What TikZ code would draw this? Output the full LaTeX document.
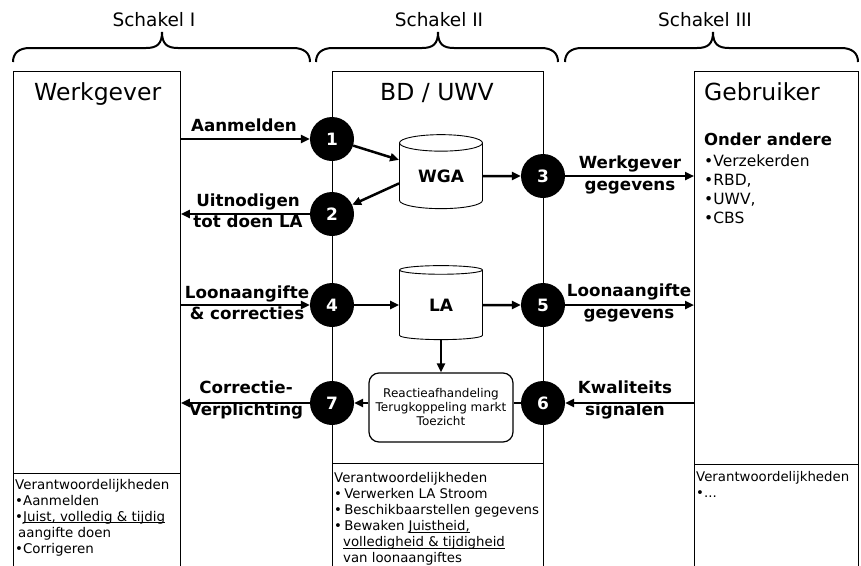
\documentclass[tikz,border=0pt]{standalone}
\usepackage{fontspec}
\setmainfont{DejaVu Sans}
\usetikzlibrary{arrows.meta,shapes.geometric,calc}
\newcommand\mybrace[3]{\draw[bracepath] (#1,62) .. controls (#1,53) and ({#1+6},48) .. ({#1+17},48) -- ({#2-16},48) .. controls ({#2-5},48) and (#2,44) .. (#2,32) .. controls (#2,44) and ({#2+5},48) .. ({#2+16},48) -- ({#3-17},48) .. controls ({#3-6},48) and (#3,53) .. (#3,62);}
\newcommand\myul[1]{\setbox0=\hbox{#1}\rlap{\rule[-1.6pt]{\wd0}{0.7pt}}\box0}
\begin{document}
\begin{tikzpicture}[x=1pt,y=-1pt,
  panel/.style={draw, line width=0.9pt, minimum width=#1, minimum height=520pt, anchor=north west, inner sep=0pt},
  num/.style={circle, fill=black, minimum size=44pt, inner sep=0pt, text=white, font=\bfseries\fontsize{17}{17}\selectfont},
  arr/.style={line width=2.5pt, -{Triangle[length=9pt,width=8pt]}},
  conn/.style={line width=2.5pt},
  lbl/.style={font=\bfseries\fontsize{16.7}{21.5}\selectfont, align=center, inner sep=0pt},
  db/.style={cylinder, shape border rotate=90, draw, line width=0.9pt, fill=white, minimum width=83pt, minimum height=74pt, aspect=0.36, inner sep=0pt, font=\bfseries\fontsize{17}{17}\selectfont},
  bracepath/.style={line width=2pt},
  head/.style={font=\fontsize{23.5}{23.5}\selectfont, inner sep=0pt},
  schak/.style={font=\fontsize{18.5}{18.5}\selectfont, inner sep=0pt},
  small/.style={font=\fontsize{13.4}{16.1}\selectfont, align=left, inner sep=0pt, anchor=north west},
  smallb/.style={font=\fontsize{13.3}{16.1}\selectfont, align=left, inner sep=0pt, anchor=north west},
  rbox/.style={draw, line width=1.2pt, rounded corners=10pt, fill=white, minimum width=144pt, minimum height=69pt, align=center, inner sep=0pt, font=\fontsize{12}{14}\selectfont},
]
\useasboundingbox[fill=white] (0,0) rectangle (861,565);

% braces and their labels
\mybrace{13}{162}{310}
\mybrace{316}{438}{558}
\mybrace{565}{713}{858}
\node[schak] (s1) at (154,20) {Schakel I};
\node[schak] (s2) at (439,20) {Schakel II};
\node[schak] (s3) at (705,20) {Schakel III};

% panels
\node[panel=167pt] (wg) at (13,71) {};
\node[panel=211pt] (bd) at (332,71) {};
\node[panel=164pt] (gb) at (694,71) {};
\draw[line width=0.9pt] (wg.west |- 0,473) -- (wg.east |- 0,473);
\draw[line width=0.9pt] (bd.west |- 0,463) -- (bd.east |- 0,463);
\draw[line width=0.9pt] (gb.west |- 0,464) -- (gb.east |- 0,464);

% headings
\node[head, anchor=base west] (hwg) at (34,100) {Werkgever};
\node[head, anchor=base] (hbd) at (437,100) {BD / UWV};
\node[head, anchor=base west] (hgb) at (704,100) {Gebruiker};
\node[font=\bfseries\fontsize{16.5}{16.5}\selectfont, inner sep=0pt, anchor=base west] (oa) at (704,145) {Onder andere};
\node[font=\fontsize{15.5}{19}\selectfont, align=left, inner sep=0pt, anchor=north west] (lst) at (704,155) {•Verzekerden\\•RBD,\\•UWV,\\•CBS};

% responsibilities
\node[small] (rwg) at (15,479) {Verantwoordelijkheden\\•Aanmelden\\•\myul{Juist, volledig \& tijdig}\\\hspace{3pt}aangifte doen\\•Corrigeren};
\node[smallb] (rbd) at (334,472) {Verantwoordelijkheden\\•\,Verwerken LA Stroom\\•\,Beschikbaarstellen gegevens\\•\,Bewaken \myul{Juistheid,}\\\hspace{9pt}\myul{volledigheid \& tijdigheid}\\\hspace{9pt}van loonaangiftes};
\node[smallb] (rgb) at (696,471) {Verantwoordelijkheden\\•...};

% data stores and box
\node[db] (wga) at (441,176) {WGA};
\node[db] (la) at (441,305) {LA};
\node[rbox] (rb) at (441,407.5) {Reactieafhandeling\\Terugkoppeling markt\\Toezicht};

% numbered circles
\node[num] (c1) at (332,139) {1};
\node[num] (c2) at (332,214) {2};
\node[num] (c3) at (543,176) {3};
\node[num] (c4) at (332,305) {4};
\node[num] (c5) at (543,305) {5};
\node[num] (c6) at (543,403) {6};
\node[num] (c7) at (332,403) {7};

% connectors
\draw[arr] (wg.east |- c1) -- (c1);
\draw[arr] (c1) -- (wga.159);
\draw[arr] (wga.190) -- (c2);
\draw[arr] (c2) -- (wg.east |- c2);
\draw[arr] (wga) -- (c3);
\draw[arr] (c3) -- (gb.west |- c3);
\draw[arr] (wg.east |- c4) -- (c4);
\draw[arr] (c4) -- (la);
\draw[arr] (la) -- (c5);
\draw[arr] (c5) -- (gb.west |- c5);
\draw[arr] (la) -- (rb);
\draw[arr] (gb.west |- c6) -- (c6);
\draw[conn] (c6) -- (rb.east |- c6);
\draw[arr] (rb.west |- c7) -- (c7);
\draw[arr] (c7) -- (wg.east |- c7);

% connector labels
\node[lbl] (l1) at (244,125) {Aanmelden};
\node[lbl] (l2) at (248,211) {Uitnodigen\\tot doen LA};
\node[lbl] (l3) at (630,175) {Werkgever\\gegevens};
\node[lbl] (l4) at (247,303) {Loonaangifte\\\& correcties};
\node[lbl] (l5) at (629,303) {Loonaangifte\\gegevens};
\node[lbl] (l6) at (625,400) {Kwaliteits\\signalen};
\node[lbl] (l7) at (246,400) {Correctie-\\Verplichting};
\end{tikzpicture}
\end{document}
